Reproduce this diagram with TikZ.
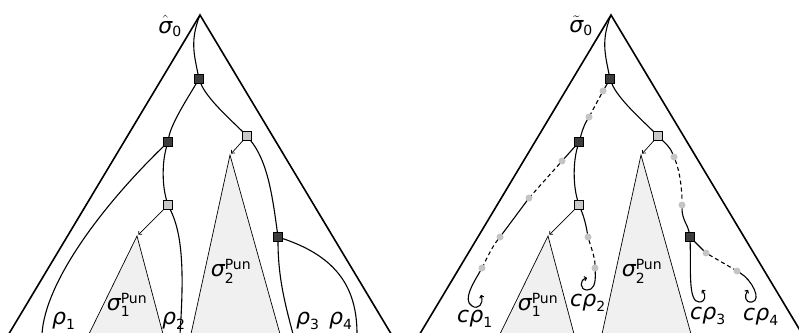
\documentclass[tikz,border=0pt]{standalone}
\usepackage{fontspec}
\setmainfont{DejaVu Sans}
\usepackage{amsmath}
\usetikzlibrary{arrows.meta}
\definecolor{dk}{HTML}{3C3C3C}
\definecolor{lt}{HTML}{C8C8C8}
\definecolor{dotc}{HTML}{C4C4C4}
\definecolor{trif}{HTML}{F0F0F0}
\newcommand{\gk}[1]{\text{\fontsize{22}{22}\selectfont\itshape #1}}
\newcommand{\sx}[1]{\text{\fontsize{14}{14}\selectfont #1}}
\tikzset{
  sqd/.style={rectangle, draw=black, line width=0.6pt, fill=dk, minimum size=9pt, inner sep=0pt, outer sep=0pt},
  sql/.style={sqd, fill=lt},
  gdot/.style={circle, fill=dotc, minimum size=7pt, inner sep=0pt, outer sep=0pt},
  crv/.style={line width=1.1pt},
  dsh/.style={crv, dash pattern=on 4pt off 3pt},
  outer/.style={line width=1.6pt},
  subtri/.style={fill=trif, draw=black, line width=0.7pt},
  ptr/.style={line width=0.7pt, -{To[length=3pt,width=5pt]}, shorten >=2pt},
  curl/.style={crv, -{To[length=3pt,width=5pt]}},
  lbl/.style={inner sep=0pt, font=\fontsize{20}{24}\selectfont}
}
\begin{document}
\begin{tikzpicture}[x=1pt,y=-1pt]
\useasboundingbox (0,0) rectangle (799,332);
\clip (0,0) rectangle (799,332);
% ---------------- left figure ----------------
\coordinate (A) at (200,15);
\coordinate (Al) at (8.2,335);
\coordinate (Ar) at (391.8,335);
\draw[outer] (Al) -- (A) -- (Ar);
\coordinate (t1a) at (137,236);
\coordinate (t1l) at (89,334);
\coordinate (t1r) at (163,334);
\coordinate (t2a) at (230,155);
\coordinate (t2l) at (191,334);
\coordinate (t2r) at (280,334);
\draw[subtri] (t1l) -- (t1a) -- (t1r);
\draw[subtri] (t2l) -- (t2a) -- (t2r);
\node[sqd] (R) at (199,79) {};
\node[sqd] (D1) at (168,142) {};
\node[sql] (L1) at (247,136) {};
\node[sql] (L2) at (168,205) {};
\node[sqd] (D3) at (278,237) {};
\coordinate (b1) at (42,334);
\coordinate (b2) at (180,334);
\coordinate (b3) at (293,334);
\coordinate (b4) at (357,334);
\draw[crv] (A) .. controls +(-10,25) and +(-5,-25) .. (R);
\draw[crv] (R) .. controls +(-12,20) and +(3,-18) .. (D1);
\draw[crv] (R) .. controls +(8,20) and +(-15,-15) .. (L1);
\draw[crv] (D1) .. controls +(-6,20) and +(-6,-20) .. (L2);
\draw[crv] (D1) .. controls +(-70,68) and +(3,-50) .. (b1);
\draw[crv] (L2) .. controls +(15,30) and +(4,-60) .. (b2);
\draw[crv] (L1) .. controls +(20,25) and +(-6,-45) .. (D3);
\draw[crv] (D3) .. controls +(0,40) and +(-8,-30) .. (b3);
\draw[crv] (D3) .. controls +(60,20) and +(0,-45) .. (b4);
\draw[ptr] (L2) -- (t1a);
\draw[ptr] (L1) -- (t2a);
\node[lbl] (s0) at (170,26) {$\hat{\gk{σ}}_{\sx{0}}$};
\node[lbl] (s1) at (127,305) {$\gk{σ}^{\sx{Pun}}_{\sx{1}}$};
\node[lbl] (s2) at (231,271) {$\gk{σ}^{\sx{Pun}}_{\sx{2}}$};
\node[lbl, anchor=base west] (r1) at (52,324) {$\gk{ρ}_{\sx{1}}$};
\node[lbl, anchor=base west] (r2) at (162,324) {$\gk{ρ}_{\sx{2}}$};
\node[lbl, anchor=base west] (r3) at (296,324) {$\gk{ρ}_{\sx{3}}$};
\node[lbl, anchor=base west] (r4) at (329,324) {$\gk{ρ}_{\sx{4}}$};
% ---------------- right figure ----------------
\coordinate (B) at (611,15);
\coordinate (Bl) at (419.2,335);
\coordinate (Br) at (802.8,335);
\draw[outer] (Bl) -- (B) -- (Br);
\coordinate (u1a) at (548,236);
\coordinate (u1l) at (500,334);
\coordinate (u1r) at (574,334);
\coordinate (u2a) at (641,155);
\coordinate (u2l) at (602,334);
\coordinate (u2r) at (691,334);
\draw[subtri] (u1l) -- (u1a) -- (u1r);
\draw[subtri] (u2l) -- (u2a) -- (u2r);
\node[sqd] (Rb) at (610,79) {};
\node[sqd] (D1b) at (579,142) {};
\node[sql] (L1b) at (658,136) {};
\node[sql] (L2b) at (579,205) {};
\node[sqd] (D3b) at (690,237) {};
\node[gdot] (d1) at (603,91) {};
\node[gdot] (d2) at (589,117) {};
\node[gdot] (e1) at (562,161) {};
\node[gdot] (e2) at (529,198) {};
\node[gdot] (e3) at (500,237) {};
\node[gdot] (e4) at (482,268) {};
\node[gdot] (f1) at (588,237) {};
\node[gdot] (f2) at (595,268) {};
\node[gdot] (g1) at (674,157) {};
\node[gdot] (g2) at (682,205) {};
\node[gdot] (h1) at (706,253) {};
\node[gdot] (h2) at (737,271) {};
\coordinate (c1) at (481,295);
\coordinate (c2) at (587,278);
\coordinate (c3) at (702,290);
\coordinate (c4) at (748,290);
\draw[crv] (B) .. controls +(-10,25) and +(-5,-25) .. (Rb);
\draw[crv] (Rb) -- (d1);
\draw[dsh] (d1) -- (d2);
\draw[crv] (d2) .. controls +(-6,10) and +(3,-10) .. (D1b);
\draw[crv] (D1b) -- (e1);
\draw[dsh] (e1) -- (e2);
\draw[crv] (e2) -- (e3);
\draw[dsh] (e3) .. controls +(-8,10) and +(5,-10) .. (e4);
\draw[curl] (e4) .. controls (474,282) and (462,300) .. (472,306) .. controls (478,310) and (484,304) .. (c1);
\draw[crv] (D1b) .. controls +(-6,20) and +(-6,-20) .. (L2b);
\draw[crv] (L2b) .. controls +(5,12) and +(-2,-12) .. (f1);
\draw[dsh] (f1) .. controls +(3,10) and +(0,-10) .. (f2);
\draw[curl] (f2) .. controls (596,285) and (593,290) .. (587,290) .. controls (580,290) and (579,280) .. (c2);
\draw[crv] (Rb) .. controls +(8,20) and +(-15,-15) .. (L1b);
\draw[crv] (L1b) .. controls +(8,8) and +(-4,-10) .. (g1);
\draw[dsh] (g1) .. controls +(6,15) and +(0,-15) .. (g2);
\draw[crv] (g2) .. controls +(0,15) and +(-2,-12) .. (D3b);
\draw[crv] (D3b) -- (h1);
\draw[dsh] (h1) -- (h2);
\draw[curl] (h2) .. controls (752,280) and (762,300) .. (752,302) .. controls (745,303) and (744,296) .. (c4);
\draw[curl] (D3b) .. controls (691,270) and (688,302) .. (699,302) .. controls (706,302) and (706,295) .. (c3);
\draw[ptr] (L2b) -- (u1a);
\draw[ptr] (L1b) -- (u2a);
\node[lbl] (t0) at (581,26) {$\tilde{\gk{σ}}_{\sx{0}}$};
\node[lbl] (t1) at (538,305) {$\gk{σ}^{\sx{Pun}}_{\sx{1}}$};
\node[lbl] (t2) at (642,271) {$\gk{σ}^{\sx{Pun}}_{\sx{2}}$};
\node[lbl, anchor=base west] (cr1) at (457,322) {$\gk{c}\gk{ρ}_{\sx{1}}$};
\node[lbl, anchor=base west] (cr2) at (570,306) {$\gk{c}\gk{ρ}_{\sx{2}}$};
\node[lbl, anchor=base west] (cr3) at (690,319) {$\gk{c}\gk{ρ}_{\sx{3}}$};
\node[lbl, anchor=base west] (cr4) at (743,320) {$\gk{c}\gk{ρ}_{\sx{4}}$};
\end{tikzpicture}
\end{document}
